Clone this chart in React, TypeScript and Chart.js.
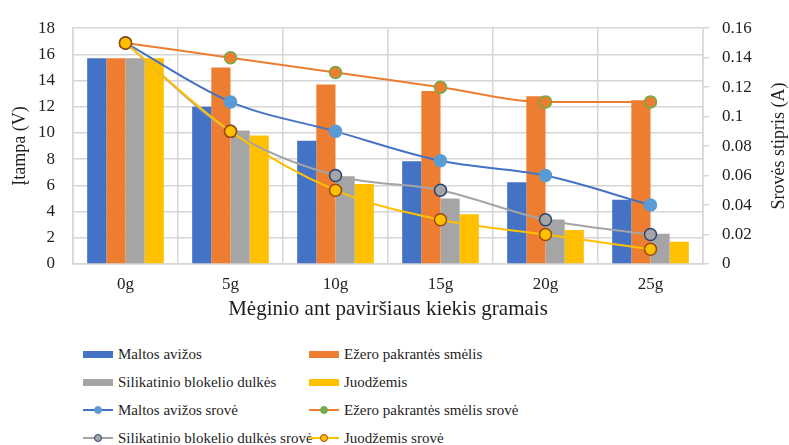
import React, { useEffect, useRef } from "react";
import { Chart, registerables } from "chart.js";

Chart.register(...registerables);

const categories = ["0g", "5g", "10g", "15g", "20g", "25g"];

const oatsVoltage = [15.7, 12.0, 9.4, 7.85, 6.25, 4.9];
const sandVoltage = [15.7, 15.0, 13.7, 13.2, 12.8, 12.5];
const dustVoltage = [15.7, 10.2, 6.7, 5.0, 3.4, 2.3];
const soilVoltage = [15.7, 9.8, 6.1, 3.8, 2.6, 1.7];

const oatsCurrent = [0.15, 0.11, 0.09, 0.07, 0.06, 0.04];
const sandCurrent = [0.15, 0.14, 0.13, 0.12, 0.11, 0.11];
const dustCurrent = [0.15, 0.09, 0.06, 0.05, 0.03, 0.02];
const soilCurrent = [0.15, 0.09, 0.05, 0.03, 0.02, 0.01];

const leftTitle = "Įtampa (V)";
const rightTitle = "Srovės stipris (A)";
const xTitle = "Mėginio ant paviršiaus kiekis gramais";

const seriesNames = [
  "Maltos avižos",
  "Ežero pakrantės smėlis",
  "Silikatinio blokelio dulkės",
  "Juodžemis",
  "Maltos avižos srovė",
  "Ežero pakrantės smėlis srovė",
  "Silikatinio blokelio dulkės srovė",
  "Juodžemis srovė",
];

const FONT = '"Liberation Serif", "DejaVu Serif", serif';
const TEXT = "#1e1e1e";
const GRID = "#d6d6d6";

const legendItems = [
  { name: seriesNames[0], type: "bar", color: "#4472C4" },
  { name: seriesNames[1], type: "bar", color: "#ED7D31" },
  { name: seriesNames[2], type: "bar", color: "#A5A5A5" },
  { name: seriesNames[3], type: "bar", color: "#FFC000" },
  { name: seriesNames[4], type: "line", color: "#4472C4", fill: "#5B9BD5", border: "#5B9BD5" },
  { name: seriesNames[5], type: "line", color: "#ED7D31", fill: "#70AD47", border: "#70AD47" },
  { name: seriesNames[6], type: "line", color: "#A5A5A5", fill: "#A5A5A5", border: "#264478" },
  { name: seriesNames[7], type: "line", color: "#FFC000", fill: "#FFC000", border: "#9E480E" },
];

const rightTitlePlugin = {
  id: "rightTitle",
  afterDraw(chart: any) {
    const { ctx, chartArea } = chart;
    ctx.save();
    ctx.translate(779, (chartArea.top + chartArea.bottom) / 2);
    ctx.rotate(-Math.PI / 2);
    ctx.textAlign = "center";
    ctx.textBaseline = "middle";
    ctx.font = `18px ${FONT}`;
    ctx.fillStyle = TEXT;
    ctx.fillText(rightTitle, 0, 0);
    ctx.restore();
  },
};

export default function App() {
  const ref = useRef<HTMLCanvasElement>(null);

  useEffect(() => {
    if (!ref.current) return;
    const line = (label: string, data: number[], color: string, fill: string, border: string, order: number) => ({
      type: "line" as const,
      label,
      data,
      yAxisID: "y1",
      borderColor: color,
      borderWidth: 2,
      backgroundColor: fill,
      pointBackgroundColor: fill,
      pointBorderColor: border,
      pointBorderWidth: 1.5,
      pointRadius: 6,
      cubicInterpolationMode: "monotone",
      order,
    });
    const bar = (label: string, data: number[], color: string) => ({
      type: "bar" as const,
      label,
      data,
      yAxisID: "y",
      backgroundColor: color,
      borderWidth: 0,
      order: 10,
      categoryPercentage: 0.73,
      barPercentage: 1.0,
    });
    const chart = new Chart(ref.current, {
      data: {
        labels: categories,
        datasets: [
          bar(seriesNames[0], oatsVoltage, "#4472C4"),
          bar(seriesNames[1], sandVoltage, "#ED7D31"),
          bar(seriesNames[2], dustVoltage, "#A5A5A5"),
          bar(seriesNames[3], soilVoltage, "#FFC000"),
          line(seriesNames[4], oatsCurrent, "#4472C4", "#5B9BD5", "#5B9BD5", 4),
          line(seriesNames[5], sandCurrent, "#ED7D31", "#ED7D31", "#70AD47", 3),
          line(seriesNames[6], dustCurrent, "#A5A5A5", "#A5A5A5", "#264478", 2),
          line(seriesNames[7], soilCurrent, "#FFC000", "#FFC000", "#9E480E", 1),
        ],
      } as any,
      options: {
        responsive: false,
        animation: false,
        devicePixelRatio: 1,
        layout: { padding: { top: 19, left: 0, right: 0, bottom: 0 } },
        plugins: { legend: { display: false }, tooltip: { enabled: false } },
        scales: {
          x: {
            grid: { color: GRID, lineWidth: 1.5, drawTicks: false, offset: true },
            border: { color: GRID, width: 1.5 },
            ticks: { color: TEXT, font: { family: FONT, size: 17 }, padding: 10 },
            title: {
              display: true,
              text: xTitle,
              color: TEXT,
              font: { family: FONT, size: 21 },
              padding: { top: 0, bottom: 8 },
            },
            afterFit: (s: any) => {
              s.height = 66;
            },
          },
          y: {
            position: "left",
            min: 0,
            max: 18,
            ticks: { stepSize: 2, color: TEXT, font: { family: FONT, size: 17 }, padding: 18 },
            grid: { color: GRID, lineWidth: 1.5, drawTicks: false },
            border: { color: GRID, width: 1.5 },
            title: {
              display: true,
              text: leftTitle,
              color: TEXT,
              font: { family: FONT, size: 18 },
              padding: { top: 9, bottom: 0 },
            },
            afterFit: (s: any) => {
              s.width = 73;
            },
          },
          y1: {
            position: "right",
            min: 0,
            max: 0.16,
            ticks: {
              stepSize: 0.02,
              color: TEXT,
              font: { family: FONT, size: 17 },
              padding: 13,
              callback: (v: any) => String(Number(Number(v).toFixed(2))),
            },
            grid: { drawOnChartArea: false, drawTicks: true, tickLength: 6, color: GRID, lineWidth: 1.5 },
            border: { color: GRID, width: 1.5 },
            afterFit: (s: any) => {
              s.width = 86;
            },
          },
        },
      } as any,
      plugins: [rightTitlePlugin],
    });
    return () => chart.destroy();
  }, []);

  const rowsY = [354, 382, 410, 438];
  const colsX = [83, 309];

  return (
    <div style={{ position: "absolute", left: 0, top: 0, width: 789, height: 445, background: "#fff", overflow: "hidden" }}>
      <canvas ref={ref} width={789} height={330} style={{ position: "absolute", left: 0, top: 0 }} />
      {legendItems.map((it, i) => {
        const row = Math.floor(i / 2);
        const col = i % 2;
        return (
          <div
            key={i}
            style={{
              position: "absolute",
              left: colsX[col],
              top: rowsY[row] - 10,
              height: 20,
              display: "flex",
              alignItems: "center",
              fontFamily: FONT,
              fontSize: 15,
              color: TEXT,
              whiteSpace: "nowrap",
            }}
          >
            <div style={{ position: "relative", width: 30, height: 20, marginRight: 5 }}>
              {it.type === "bar" ? (
                <div style={{ position: "absolute", left: 0, top: 6.5, width: 30, height: 7, background: it.color }} />
              ) : (
                <>
                  <div style={{ position: "absolute", left: 0, top: 9, width: 30, height: 2, background: it.color }} />
                  <div
                    style={{
                      position: "absolute",
                      left: 11,
                      top: 5.5,
                      width: 6,
                      height: 6,
                      borderRadius: "50%",
                      background: it.fill,
                      border: `1.5px solid ${it.border}`,
                    }}
                  />
                </>
              )}
            </div>
            <span>{it.name}</span>
          </div>
        );
      })}
    </div>
  );
}
